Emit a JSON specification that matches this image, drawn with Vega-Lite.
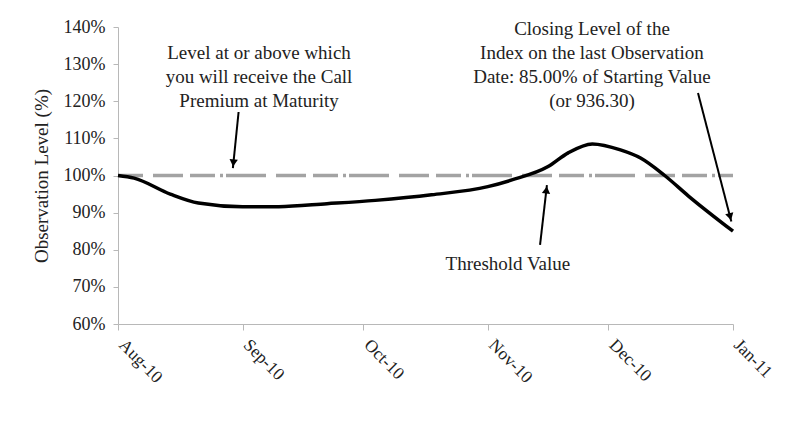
{
  "$schema": "https://vega.github.io/schema/vega-lite/v6.json",
  "width": 615,
  "height": 297,
  "autosize": {"type": "none"},
  "padding": {"left": 118, "top": 27, "right": 55, "bottom": 104},
  "background": "white",
  "config": {
    "view": {"stroke": null},
    "font": "Liberation Serif",
    "axis": {
      "domainColor": "#b8b8b8",
      "tickColor": "#b8b8b8",
      "grid": false,
      "labelFont": "Liberation Serif",
      "titleFont": "Liberation Serif",
      "labelColor": "#222222",
      "titleColor": "#222222"
    }
  },
  "datasets": {
    "series": [
      {"date": "2010-08-01", "v": 100.0},
      {"date": "2010-08-05", "v": 99.3},
      {"date": "2010-08-14", "v": 95.0},
      {"date": "2010-08-21", "v": 92.6},
      {"date": "2010-09-01", "v": 91.6},
      {"date": "2010-09-10", "v": 91.6},
      {"date": "2010-09-22", "v": 92.4},
      {"date": "2010-10-04", "v": 93.3},
      {"date": "2010-10-18", "v": 94.8},
      {"date": "2010-11-01", "v": 97.0},
      {"date": "2010-11-07", "v": 98.8},
      {"date": "2010-11-16", "v": 102.4},
      {"date": "2010-11-21", "v": 106.1},
      {"date": "2010-11-27", "v": 108.5},
      {"date": "2010-12-04", "v": 106.9},
      {"date": "2010-12-09", "v": 104.7},
      {"date": "2010-12-15", "v": 100.0},
      {"date": "2010-12-21", "v": 94.4},
      {"date": "2011-01-01", "v": 85.0}
    ],
    "threshold": [
      {"date": "2010-08-01", "v": 100},
      {"date": "2011-01-01", "v": 100}
    ],
    "arrows": [
      {"date": "2010-08-31T00:00:00Z", "v": 117.1, "date2": "2010-08-29T14:00:00Z", "v2": 102.0},
      {"date": "2010-11-14T00:00:00Z", "v": 81.3, "date2": "2010-11-15T17:00:00Z", "v2": 97.4},
      {"date": "2010-12-23T07:00:00Z", "v": 122.2, "date2": "2010-12-31T14:00:00Z", "v2": 87.6}
    ],
    "heads": [
      {"date": "2010-08-29T17:00:00Z", "v": 103.4, "angle": 5},
      {"date": "2010-11-15T14:00:00Z", "v": 96.1, "angle": 186.7},
      {"date": "2010-12-31T07:00:00Z", "v": 88.9, "angle": 345.4}
    ],
    "labels": [
      {"date": "2010-09-05T02:00:00Z", "v": 133.0, "label": "Level at or above which"},
      {"date": "2010-09-05T02:00:00Z", "v": 126.53, "label": "you will receive the Call"},
      {"date": "2010-09-05T02:00:00Z", "v": 120.07, "label": "Premium at Maturity"},
      {"date": "2010-11-26T22:00:00Z", "v": 139.46, "label": "Closing Level of the"},
      {"date": "2010-11-26T22:00:00Z", "v": 133.0, "label": "Index on the last Observation"},
      {"date": "2010-11-26T22:00:00Z", "v": 126.53, "label": "Date: 85.00% of Starting Value"},
      {"date": "2010-11-26T22:00:00Z", "v": 120.07, "label": "(or 936.30)"},
      {"date": "2010-11-06T00:00:00Z", "v": 76.16, "label": "Threshold Value"}
    ]
  },
  "encoding": {
    "x": {
      "field": "date", "type": "temporal",
      "scale": {"type": "utc", "domain": [{"year": 2010, "month": 8, "date": 1, "utc": true}, {"year": 2011, "month": 1, "date": 1, "utc": true}]},
      "axis": {
        "title": null,
        "labelExpr": "utcFormat(datum.value, '%b-%y')",
        "values": [
          {"year": 2010, "month": 8, "date": 1, "utc": true},
          {"year": 2010, "month": 9, "date": 1, "utc": true},
          {"year": 2010, "month": 10, "date": 1, "utc": true},
          {"year": 2010, "month": 11, "date": 1, "utc": true},
          {"year": 2010, "month": 12, "date": 1, "utc": true},
          {"year": 2011, "month": 1, "date": 1, "utc": true}
        ],
        "labelAngle": 45,
        "labelAlign": "left",
        "labelBaseline": "middle",
        "labelPadding": 12,
        "labelOffset": 3,
        "labelFontSize": 17.5,
        "tickSize": 6,
        "labelFlush": false,
        "labelOverlap": false,
        "labelBound": false
      }
    },
    "y": {
      "field": "v", "type": "quantitative",
      "scale": {"domain": [60, 140], "nice": false, "zero": false},
      "axis": {
        "title": "Observation Level (%)",
        "titleFontSize": 19,
        "titleFontWeight": "normal",
        "titlePadding": 12,
        "values": [60, 70, 80, 90, 100, 110, 120, 130, 140],
        "labelExpr": "datum.value + '%'",
        "labelFontSize": 18,
        "labelPadding": 8,
        "tickSize": 5
      }
    }
  },
  "layer": [
    {
      "data": {"name": "threshold"},
      "mark": {"type": "line", "color": "#a3a3a3", "strokeWidth": 3.5, "strokeDash": [40, 10, 30, 7, 25, 5, 3, 3], "strokeDashOffset": 15}
    },
    {
      "data": {"name": "series"},
      "mark": {"type": "line", "color": "black", "strokeWidth": 3.5, "interpolate": "monotone"}
    },
    {
      "data": {"name": "arrows"},
      "mark": {"type": "rule", "color": "black", "strokeWidth": 2},
      "encoding": {
        "x2": {"field": "date2"},
        "y2": {"field": "v2"}
      }
    },
    {
      "data": {"name": "heads"},
      "mark": {"type": "point", "shape": "triangle-down", "filled": true, "color": "black", "opacity": 1, "size": 70},
      "encoding": {
        "angle": {"field": "angle", "type": "quantitative", "scale": null}
      }
    },
    {
      "data": {"name": "labels"},
      "mark": {"type": "text", "align": "center", "baseline": "middle", "fontSize": 19, "color": "#222222", "font": "Liberation Serif"},
      "encoding": {
        "text": {"field": "label", "type": "nominal"}
      }
    }
  ]
}
